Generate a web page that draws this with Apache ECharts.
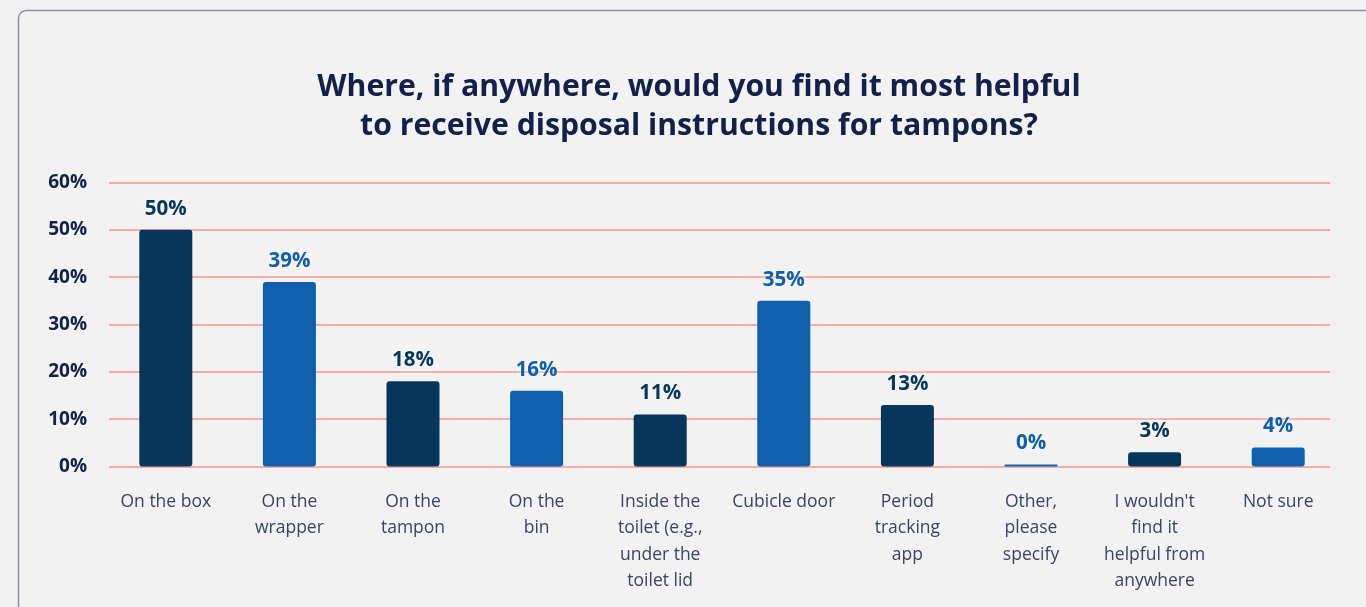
<!DOCTYPE html>
<html>
<head>
<meta charset="utf-8">
<title>Tampon disposal instructions</title>
<script src="https://cdn.jsdelivr.net/npm/echarts@6/dist/echarts.min.js"></script>
<style>
  html, body { margin: 0; padding: 0; background: #f2f2f2; }
  #chart { width: 1366px; height: 607px; }
</style>
</head>
<body>
<div id="chart"></div>
<script>
// Survey answers: where respondents want tampon disposal instructions
const categories = [
  'On the box',
  'On the\nwrapper',
  'On the\ntampon',
  'On the\nbin',
  'Inside the\ntoilet (e.g.,\nunder the\ntoilet lid',
  'Cubicle door',
  'Period\ntracking\napp',
  'Other,\nplease\nspecify',
  "I wouldn't\nfind it\nhelpful from\nanywhere",
  'Not sure'
];
const shares = [50, 39, 18, 16, 11, 35, 13, 0, 3, 4];
const yTicks = [0, 10, 20, 30, 40, 50, 60];

const DARK = '#06375a';
const BLUE = '#0f5fad';
const FONT = '"Open Sans", "Noto Sans", sans-serif';

const chart = echarts.init(document.getElementById('chart'));

chart.setOption({
  backgroundColor: '#f2f2f2',
  animation: false,
  graphic: [{
    type: 'rect',
    z: -10,
    shape: { x: 18.5, y: 10.5, width: 1420, height: 700, r: 8 },
    style: { fill: '#f2f2f2', stroke: '#8b91a1', lineWidth: 1.5 }
  }],
  title: {
    text: 'Where, if anywhere, would you find it most helpful\nto receive disposal instructions for tampons?',
    left: 694,
    top: 63,
    textAlign: 'center',
    textStyle: {
      fontFamily: FONT,
      fontSize: 30.2,
      fontWeight: 'bold',
      color: '#13204a',
      lineHeight: 39
    }
  },
  grid: [
    // gridline frame
    { left: 109, right: 36, top: 182.5, bottom: 140.5 },
    // bar area
    { left: 104, right: 26, top: 182.5, bottom: 140.5 }
  ],
  xAxis: [
    {
      type: 'category', gridIndex: 0, data: categories,
      show: false
    },
    {
      type: 'category', gridIndex: 1, data: categories,
      axisLine: { show: false },
      axisTick: { show: false },
      axisLabel: {
        interval: 0,
        margin: 22,
        fontFamily: FONT,
        fontSize: 17.5,
        lineHeight: 26.5,
        color: '#3a4460'
      }
    }
  ],
  yAxis: [
    {
      type: 'value', gridIndex: 0,
      min: yTicks[0], max: yTicks[yTicks.length - 1], interval: 10,
      axisLine: { show: false },
      axisTick: { show: false },
      axisLabel: {
        margin: 22,
        fontFamily: FONT,
        fontSize: 19,
        fontWeight: 'bold',
        color: '#13204a',
        formatter: v => v + '%'
      },
      splitLine: { lineStyle: { color: '#f2958b', width: 1.5 } }
    },
    {
      type: 'value', gridIndex: 1,
      min: yTicks[0], max: yTicks[yTicks.length - 1], interval: 10,
      show: false,
      splitLine: { show: false }
    }
  ],
  series: [{
    type: 'bar',
    xAxisIndex: 1,
    yAxisIndex: 1,
    barWidth: 53,
    barMinHeight: 2,
    data: shares.map((v, i) => ({
      value: v,
      itemStyle: { color: i % 2 === 0 ? DARK : BLUE, borderRadius: [3, 3, 3, 3] },
      label: { color: i % 2 === 0 ? DARK : BLUE }
    })),
    label: {
      show: true,
      position: 'top',
      distance: 10.5,
      fontFamily: FONT,
      fontSize: 20.5,
      fontWeight: 'bold',
      textShadowColor: 'rgba(255,255,255,0.95)',
      textShadowBlur: 14,
      formatter: p => p.value + '%'
    }
  }]
});
</script>
</body>
</html>
